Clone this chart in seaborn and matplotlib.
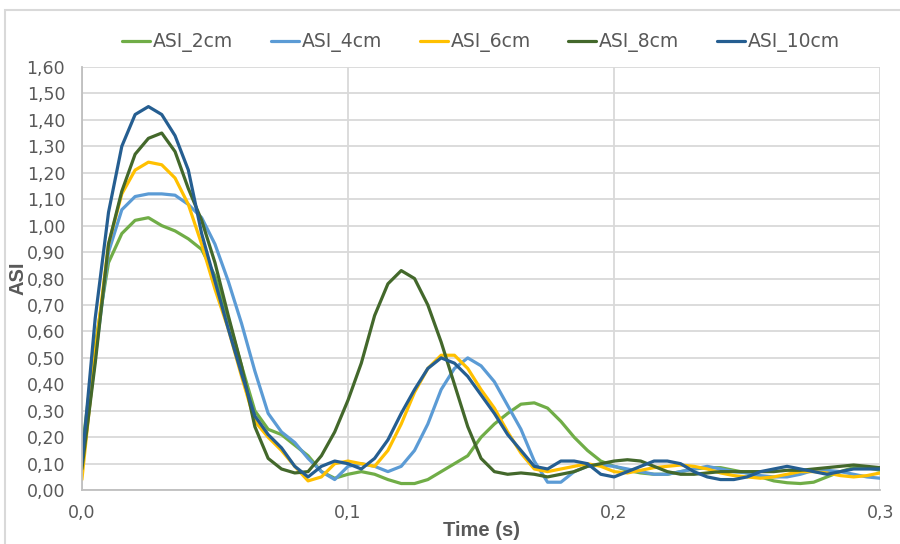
import numpy as np
import pandas as pd
import matplotlib
matplotlib.use('Agg')
import matplotlib.pyplot as plt
import seaborn as sns
from matplotlib.ticker import FuncFormatter, MultipleLocator
from matplotlib.patches import Rectangle

# time axis (s), one reading every 5 ms
time_s = [round(i * 0.005, 3) for i in range(61)]

asi_2cm = [0.15, 0.55, 0.86, 0.97, 1.02, 1.03, 1.00, 0.98, 0.95, 0.91,
           0.81, 0.65, 0.47, 0.30, 0.23, 0.21, 0.17, 0.13, 0.07, 0.045,
           0.06, 0.07, 0.06, 0.04, 0.025, 0.025, 0.04, 0.07, 0.10, 0.13,
           0.20, 0.25, 0.29, 0.325, 0.33, 0.31, 0.26, 0.20, 0.15, 0.11,
           0.09, 0.075, 0.065, 0.06, 0.06, 0.07, 0.08, 0.085, 0.085, 0.075,
           0.065, 0.05, 0.035, 0.028, 0.025, 0.03, 0.05, 0.07, 0.085, 0.085,
           0.075]
asi_4cm = [0.08, 0.50, 0.90, 1.06, 1.11, 1.12, 1.12, 1.115, 1.08, 1.03,
           0.93, 0.79, 0.63, 0.45, 0.29, 0.22, 0.18, 0.12, 0.07, 0.04,
           0.09, 0.10, 0.09, 0.07, 0.09, 0.15, 0.25, 0.38, 0.46, 0.50,
           0.47, 0.41, 0.32, 0.23, 0.11, 0.03, 0.03, 0.07, 0.09, 0.095,
           0.09, 0.08, 0.07, 0.06, 0.06, 0.07, 0.08, 0.09, 0.08, 0.07,
           0.065, 0.055, 0.05, 0.05, 0.06, 0.075, 0.075, 0.07, 0.06, 0.05,
           0.045]
asi_6cm = [0.04, 0.52, 0.93, 1.12, 1.21, 1.24, 1.23, 1.18, 1.08, 0.93,
           0.76, 0.61, 0.43, 0.26, 0.20, 0.15, 0.09, 0.035, 0.05, 0.10,
           0.11, 0.10, 0.09, 0.15, 0.25, 0.37, 0.46, 0.51, 0.51, 0.46,
           0.38, 0.31, 0.22, 0.14, 0.08, 0.07, 0.08, 0.09, 0.10, 0.09,
           0.07, 0.065, 0.075, 0.085, 0.09, 0.095, 0.09, 0.08, 0.065, 0.055,
           0.05, 0.045, 0.05, 0.06, 0.07, 0.07, 0.065, 0.055, 0.05, 0.055,
           0.065]
asi_8cm = [0.08, 0.48, 0.93, 1.13, 1.27, 1.33, 1.35, 1.28, 1.14, 1.02,
           0.86, 0.66, 0.47, 0.24, 0.12, 0.08, 0.065, 0.07, 0.13, 0.22,
           0.34, 0.48, 0.66, 0.78, 0.83, 0.80, 0.70, 0.56, 0.40, 0.24,
           0.12, 0.07, 0.06, 0.065, 0.06, 0.05, 0.06, 0.07, 0.09, 0.10,
           0.11, 0.115, 0.11, 0.09, 0.07, 0.06, 0.06, 0.065, 0.07, 0.07,
           0.07, 0.07, 0.07, 0.075, 0.075, 0.08, 0.085, 0.09, 0.095, 0.09,
           0.085]
asi_10cm = [0.10, 0.65, 1.05, 1.30, 1.42, 1.45, 1.42, 1.34, 1.21, 0.97,
            0.79, 0.61, 0.44, 0.28, 0.21, 0.16, 0.09, 0.05, 0.09, 0.11,
            0.10, 0.08, 0.12, 0.19, 0.29, 0.38, 0.46, 0.50, 0.48, 0.43,
            0.36, 0.29, 0.21, 0.15, 0.09, 0.08, 0.11, 0.11, 0.10, 0.06,
            0.05, 0.07, 0.09, 0.11, 0.11, 0.10, 0.07, 0.05, 0.04, 0.04,
            0.05, 0.07, 0.08, 0.09, 0.08, 0.07, 0.06, 0.07, 0.08, 0.08,
            0.08]

series_names = ['ASI_2cm', 'ASI_4cm', 'ASI_6cm', 'ASI_8cm', 'ASI_10cm']
series_colors = ['#70AD47', '#5B9BD5', '#FFC000', '#43682B', '#255E91']

df = pd.DataFrame({'Time': time_s, 'ASI_2cm': asi_2cm, 'ASI_4cm': asi_4cm,
                   'ASI_6cm': asi_6cm, 'ASI_8cm': asi_8cm, 'ASI_10cm': asi_10cm})
long_df = df.melt(id_vars='Time', var_name='Serie', value_name='ASI')

sns.set_theme(style='white')
plt.rcParams['font.family'] = ['Liberation Sans Narrow', 'DejaVu Sans']

fig = plt.figure(figsize=(9, 5.44), dpi=100)
ax = fig.add_axes([0.091, 0.099, 0.887, 0.778])

sns.lineplot(data=long_df, x='Time', y='ASI', hue='Serie', hue_order=series_names,
             palette=series_colors, linewidth=2.3, ax=ax)
for line in ax.get_lines():
    line.set_solid_joinstyle('round')

ax.set_xlim(0, 0.3)
ax.set_ylim(0, 1.6)
ax.xaxis.set_major_locator(MultipleLocator(0.1))
ax.yaxis.set_major_locator(MultipleLocator(0.1))
ax.xaxis.set_major_formatter(FuncFormatter(lambda v, p: f'{v:.1f}'.replace('.', ',')))
ax.yaxis.set_major_formatter(FuncFormatter(lambda v, p: f'{v:.2f}'.replace('.', ',')))
ax.grid(True, color='#D9D9D9', linewidth=1.3)
ax.tick_params(axis='both', colors='#595959', labelsize=12.5, length=0)
ax.tick_params(axis='y', pad=12)
ax.tick_params(axis='x', pad=10)

for side in ['top', 'right']:
    ax.spines[side].set_visible(False)
for side in ['left', 'bottom']:
    ax.spines[side].set_color('#BFBFBF')
    ax.spines[side].set_linewidth(1.3)

ax.set_xlabel('Time (s)', fontsize=14.5, fontweight='bold', color='#595959',
              family=['Liberation Sans', 'DejaVu Sans'])
ax.xaxis.set_label_coords(0.5, -0.072)
ax.set_ylabel('ASI', fontsize=14.5, fontweight='bold', color='#595959',
              family=['Liberation Sans', 'DejaVu Sans'])
ax.yaxis.set_label_coords(-0.068, 0.5)

ax.legend(loc='center', bbox_to_anchor=(0.5, 1.058), ncol=5, frameon=False,
          fontsize=13.5, handlelength=1.5, handletextpad=0.15, columnspacing=2.0,
          labelcolor='#595959')

# chart area border
fig.add_artist(Rectangle((0.006, -0.02), 1.05, 1.002, transform=fig.transFigure,
                         fill=False, edgecolor='#D9D9D9', linewidth=1.5))

fig.savefig('out.png', dpi=100)
